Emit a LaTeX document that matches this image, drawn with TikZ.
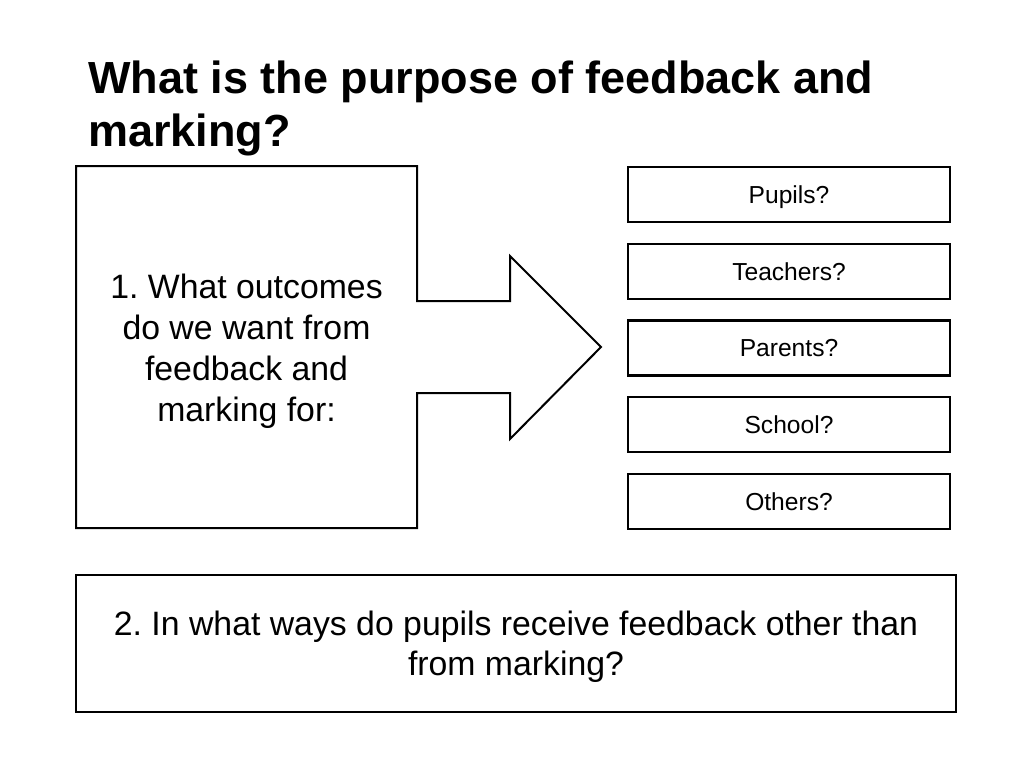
\documentclass[tikz,border=0pt]{standalone}
\usepackage{fontspec}
\setmainfont{Liberation Sans}
\frenchspacing
\begin{document}
\begin{tikzpicture}[x=1pt,y=-1pt,
  sidebox/.style={draw=black, line width=2.5pt, minimum width=322pt, minimum height=55pt, inner sep=0pt, text height=17.6pt, text depth=0pt, font=\fontsize{24.6}{28}\selectfont},
  bigtext/.style={align=center, font=\fontsize{33.8}{41}\selectfont},
  titletext/.style={anchor=base west, inner sep=0pt, font=\fontsize{45}{53}\selectfont\bfseries}]
\useasboundingbox (0,0) rectangle (1024,768);
\fill[white] (0,0) rectangle (1024,768);
% title
\node[titletext] (t1) at (88,93) {What is the purpose of feedback and};
\node[titletext] (t2) at (88,146) {marking?};
% callout with arrow
\draw[line width=2pt, line join=miter] (76,166) -- (417,166) -- (417,301) -- (510,301) -- (510,256) -- (601,347) -- (510,439) -- (510,393) -- (417,393) -- (417,528) -- (76,528) -- cycle;
\node[bigtext] (q1) at (246.5,351.5) {1. What outcomes\\do we want from\\feedback and\\marking for:};
% side boxes
\node[sidebox] (pupils) at (789,194.5) {Pupils?};
\node[sidebox] (teachers) at (789,271.5) {Teachers?};
\node[sidebox] (parents) at (789,348) {Parents?};
\node[sidebox] (school) at (789,424.5) {School?};
\node[sidebox] (others) at (789,501.5) {Others?};
% bottom box
\node[draw=black, line width=2pt, minimum width=880pt, minimum height=137pt, inner sep=0pt] (q2) at (516,643.5) {};
\node[align=center, font=\fontsize{33.8}{40}\selectfont] (q2t) at ([yshift=-3pt]q2.center) {2. In what ways do pupils receive feedback other than\\from marking?};
\end{tikzpicture}
\end{document}
